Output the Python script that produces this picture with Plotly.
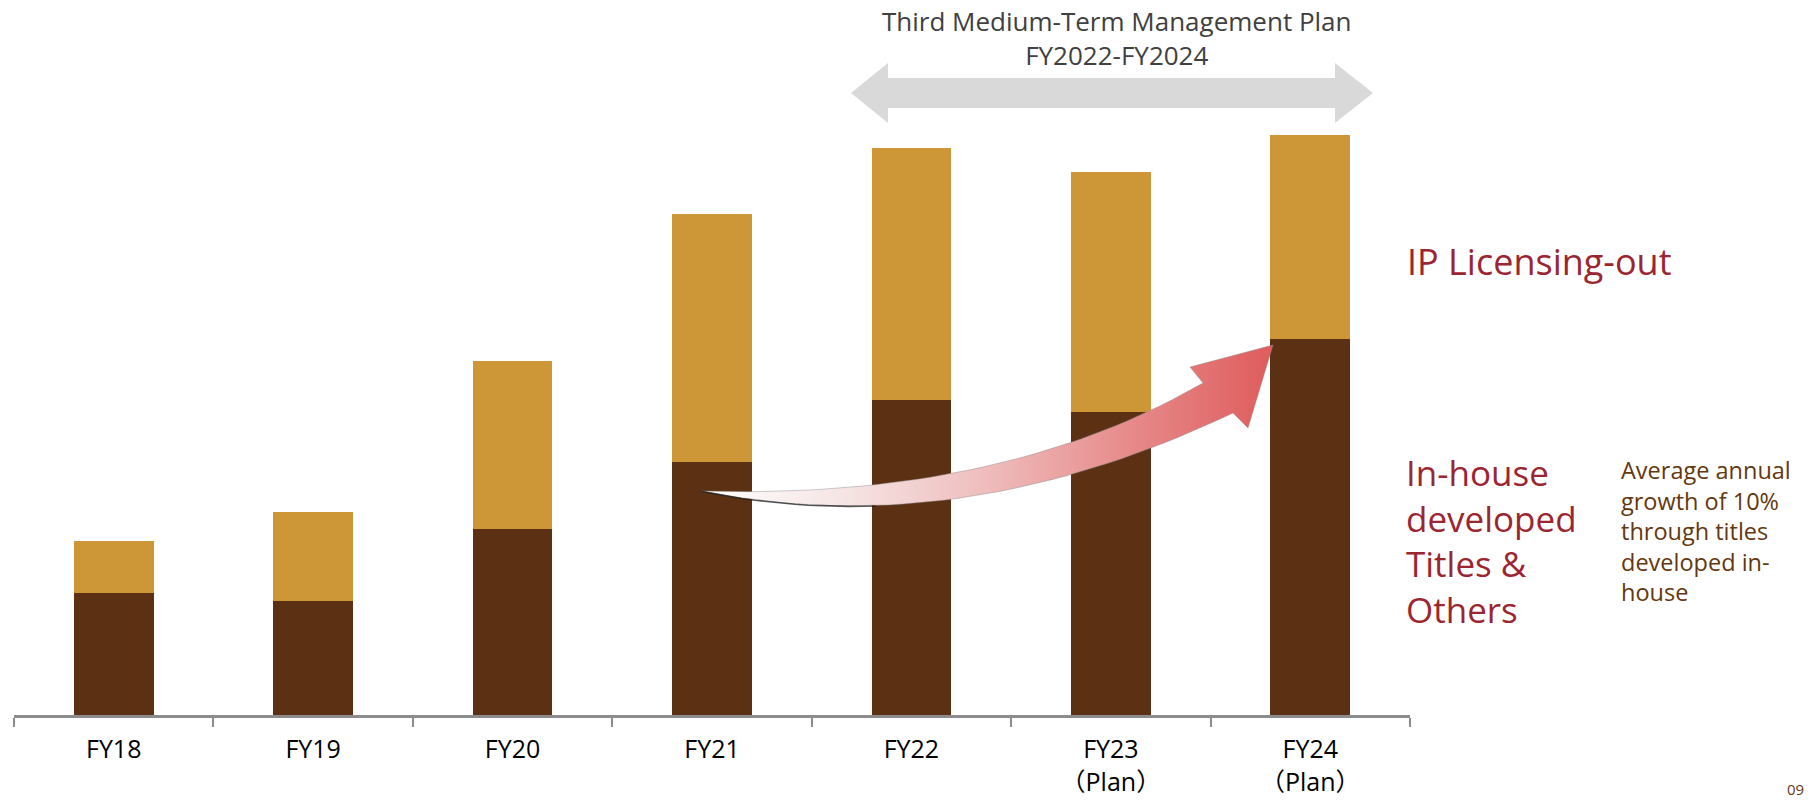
import numpy as np
import plotly.graph_objects as go

# ---- data (arbitrary units) ----
categories = ["FY18", "FY19", "FY20", "FY21", "FY22", "FY23", "FY24"]
tick_labels = ["FY18", "FY19", "FY20", "FY21", "FY22", "FY23<br>（Plan）", "FY24<br>（Plan）"]
inhouse = [122, 114, 186, 253, 315, 303, 376]
licensing = [52, 89, 168, 248, 252, 240, 204]

DARK = "#5C3013"
GOLD = "#CD9737"
RED = "#9B2631"
BROWN = "#64370F"
FONT = "Open Sans, Noto Sans CJK JP, sans-serif"

W, H = 1811, 802
L, R, T, B = 14, 401, 0, 87
PW = W - L - R
PH = H - T - B

def px(x):
    return (x - L) / PW

def py(y):
    return (PH - y) / PH

fig = go.Figure()
fig.add_trace(go.Bar(x=categories, y=inhouse, marker=dict(color=DARK, line=dict(width=0)),
                     width=0.4, name="In-house developed Titles & Others"))
fig.add_trace(go.Bar(x=categories, y=licensing, marker=dict(color=GOLD, line=dict(width=0)),
                     width=0.4, name="IP Licensing-out"))

# ---- decorative arrows in a pixel-like overlay coordinate system ----
def qbez(p0, c, p2, n=40):
    t = np.linspace(0, 1, n)
    x = (1 - t) ** 2 * p0[0] + 2 * (1 - t) * t * c[0] + t ** 2 * p2[0]
    y = (1 - t) ** 2 * p0[1] + 2 * (1 - t) * t * c[1] + t ** 2 * p2[1]
    return list(x), list(y)

tail = (702, 491)
top_end = (1203, 383)
bot_end = (1233, 413)
tx, ty = qbez(tail, (1000, 500), top_end)
bx, by = qbez(bot_end, (960, 543), tail)
ax = tx + [1190, 1273, 1248] + bx
ay = ty + [367, 345, 428] + by
fig.add_trace(go.Scatter(
    x=ax, y=ay, xaxis="x2", yaxis="y2", mode="lines", fill="toself",
    line=dict(color="rgba(140,140,140,0.45)", width=1),
    fillgradient=dict(type="horizontal",
                      colorscale=[[0, "#ffffff"], [0.25, "#f6e4e4"], [0.5, "#efbcbc"],
                                  [0.75, "#e78a8a"], [1, "#df5c5c"]]),
    hoverinfo="skip", showlegend=False))
# shadow edge at tail
sx, sy = qbez(tail, (960, 543), bot_end, 40)
fig.add_trace(go.Scatter(x=sx[:14], y=[v + 0.5 for v in sy[:14]], xaxis="x2", yaxis="y2",
                         mode="lines", line=dict(color="rgba(30,30,30,0.75)", width=1.6),
                         hoverinfo="skip", showlegend=False))

# double-headed gray arrow
dx = [851, 888, 888, 1335, 1335, 1373, 1335, 1335, 888, 888, 851]
dy = [93, 63, 78, 78, 63, 93, 123, 108, 108, 123, 93]
fig.add_trace(go.Scatter(x=dx, y=dy, xaxis="x2", yaxis="y2", mode="lines", fill="toself",
                         fillcolor="#D9D9D9", line=dict(width=0, color="#D9D9D9"),
                         hoverinfo="skip", showlegend=False))

annotations = [
    dict(x=px(1117), y=py(38), text="Third Medium-Term Management Plan<br>FY2022-FY2024",
         font=dict(size=26, color="#404040", family=FONT), xanchor="center", yanchor="middle"),
    dict(x=px(1405), y=py(262), text="IP Licensing-out", align="left",
         font=dict(size=36, color=RED, family=FONT), xanchor="left", yanchor="middle"),
    dict(x=px(1404), y=py(541), text="In-house<br>developed<br>Titles &amp;<br>Others", align="left",
         font=dict(size=35, color=RED, family=FONT), xanchor="left", yanchor="middle"),
    dict(x=px(1619), y=py(531), text="Average annual<br>growth of 10%<br>through titles<br>developed in-<br>house",
         align="left", font=dict(size=23.5, color=BROWN, family=FONT), xanchor="left", yanchor="middle"),
    dict(x=px(1806), y=py(801), text="09", align="right",
         font=dict(size=15, color=BROWN, family=FONT), xanchor="right", yanchor="bottom"),
]
for a in annotations:
    a.update(xref="paper", yref="paper", showarrow=False)

fig.update_layout(
    width=W, height=H, barmode="stack", bargap=0.6,
    margin=dict(l=L, r=R, t=T, b=B, pad=0),
    paper_bgcolor="white", plot_bgcolor="white", showlegend=False,
    font=dict(family=FONT, size=26, color="#000000"),
    xaxis=dict(type="category", range=[-0.5, 6.5], tickvals=categories, ticktext=tick_labels,
               showline=True, linecolor="#8C8C8C", linewidth=3, ticks="outside",
               tickson="boundaries", ticklen=9, tickwidth=2, tickcolor="#8C8C8C",
               showgrid=False, zeroline=False, tickfont=dict(size=25, color="#000000"),
               ticklabelstandoff=10, fixedrange=True),
    yaxis=dict(range=[0, PH], visible=False, showgrid=False, zeroline=False, fixedrange=True),
    xaxis2=dict(range=[L, W - R], overlaying="x", visible=False, fixedrange=True),
    yaxis2=dict(range=[PH, 0], overlaying="y", visible=False, fixedrange=True),
    annotations=annotations,
)

fig.write_html("out.html")
